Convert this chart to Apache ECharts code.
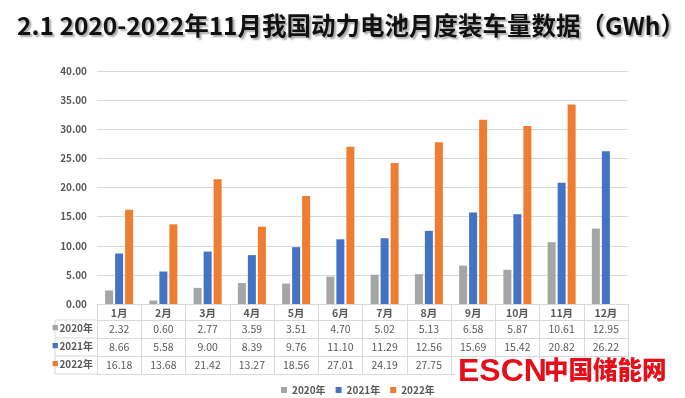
<!DOCTYPE html>
<html>
<head>
<meta charset="utf-8">
<script src="https://cdn.jsdelivr.net/npm/echarts@6/dist/echarts.min.js"></script>
<style>
html,body{margin:0;padding:0;background:#fff;}
#c{width:685px;height:398px;}
</style>
</head>
<body>
<div id="c"></div>
<script>
const months = ['1月','2月','3月','4月','5月','6月','7月','8月','9月','10月','11月','12月'];
const seriesNames = ['2020年','2021年','2022年'];
const y2020 = [2.32,0.60,2.77,3.59,3.51,4.70,5.02,5.13,6.58,5.87,10.61,12.95];
const y2021 = [8.66,5.58,9.00,8.39,9.76,11.10,11.29,12.56,15.69,15.42,20.82,26.22];
const y2022 = [16.18,13.68,21.42,13.27,18.56,27.01,24.19,27.75,31.62,30.54,34.26,null];
const yMin = 0, yMax = 40, yStep = 5;

const colors = ['#a5a5a5','#4472c4','#ed7d31'];
const FONT = '"Noto Sans CJK SC","Noto Sans",sans-serif';
const txt = '#595959';
const lineC = '#d9d9d9';
const allSeries = [y2020, y2021, y2022];

const chart = echarts.init(document.getElementById('c'), null, {renderer:'canvas'});

function tableAxis(idx, offset, tickLen) {
  const arr = allSeries[idx];
  return {
    type:'category', data: months, position:'bottom', offset: offset, gridIndex:0,
    axisLine:{show:true, lineStyle:{color:lineC, width:1}},
    axisTick:{show:true, length: tickLen, lineStyle:{color:lineC}},
    axisLabel:{show:true, interval:0, margin:4, fontSize:10.5, color:txt, fontFamily:FONT,
      formatter:(v,i)=> arr[i]==null ? '' : arr[i].toFixed(2)},
    name: '{s|■}{t|' + seriesNames[idx] + '}',
    nameLocation:'start', nameGap:4,
    nameTextStyle:{align:'right', verticalAlign:'top', padding:[3,0,0,0],
      rich:{ s:{color:colors[idx], fontSize:6.5, fontFamily:FONT, padding:[0,1,0,0]}, t:{color:txt, fontSize:10, fontFamily:FONT, fontWeight:'bold'} }}
  };
}

const option = {
  backgroundColor:'#ffffff',
  animation:false,
  title:{
    text:'2.1 2020-2022年11月我国动力电池月度装车量数据（GWh）',
    left:12, top:8,
    textStyle:{fontFamily:FONT, fontSize:24.5, fontWeight:'bold', color:'#111',
      textShadowColor:'rgba(0,0,0,0.35)', textShadowBlur:2, textShadowOffsetX:2, textShadowOffsetY:2}
  },
  legend:{
    data: seriesNames, left:276, top:380, icon:'rect', itemWidth:6, itemHeight:6, itemGap:10,
    textStyle:{fontFamily:FONT, fontSize:10, color:txt, fontWeight:'bold'}
  },
  grid:{left:97, right:57, top:71, bottom:94, containLabel:false},
  xAxis:[
    {type:'category', data: months, position:'bottom', offset:0,
      axisLine:{show:true, lineStyle:{color:lineC}},
      axisTick:{show:true, length:16, lineStyle:{color:lineC}},
      axisLabel:{interval:0, margin:4, fontSize:10.5, color:txt, fontFamily:FONT, fontWeight:'bold'}},
    tableAxis(0, 16, 18),
    tableAxis(1, 34, 18),
    tableAxis(2, 52, 18),
    {type:'category', data: months, position:'bottom', offset:70,
      axisLine:{show:true, lineStyle:{color:lineC}}, axisTick:{show:false}, axisLabel:{show:false}}
  ],
  yAxis:{
    type:'value', min:yMin, max:yMax, interval:yStep,
    axisLine:{show:false}, axisTick:{show:false},
    axisLabel:{margin:10, fontSize:10, color:txt, fontFamily:FONT, fontWeight:'bold', formatter:v=>v.toFixed(2)},
    splitLine:{lineStyle:{color:lineC}}
  },
  series: allSeries.map((d,i)=>({
    name: seriesNames[i], type:'bar', xAxisIndex:0, data:d,
    barWidth:8, barGap:'25%', itemStyle:{color:colors[i]}
  })),
  graphic:[
    {type:'polyline', shape:{points:[[97,320],[55,320],[55,374],[97,374]]}, style:{stroke:lineC, fill:null, lineWidth:1}},
    {type:'line', shape:{x1:55,y1:338,x2:97,y2:338}, style:{stroke:lineC, lineWidth:1}},
    {type:'line', shape:{x1:55,y1:356,x2:97,y2:356}, style:{stroke:lineC, lineWidth:1}},
    {type:'rect', shape:{x:456,y:359,width:212,height:36}, style:{fill:'#ffffff'}, z:100},
    {type:'text', left:458, top:356, z:101, style:{text:'ESCN', fontFamily:'"Liberation Sans","Noto Sans",sans-serif', fontSize:32, fontWeight:'bold', fill:'#e60f19'}},
    {type:'text', left:544, top:357, z:101, style:{text:'中国储能网', fontFamily:'"Noto Sans CJK SC"', fontSize:24.5, fontWeight:900, fill:'#e60f19'}}
  ]
};
chart.setOption(option);
</script>
</body>
</html>
